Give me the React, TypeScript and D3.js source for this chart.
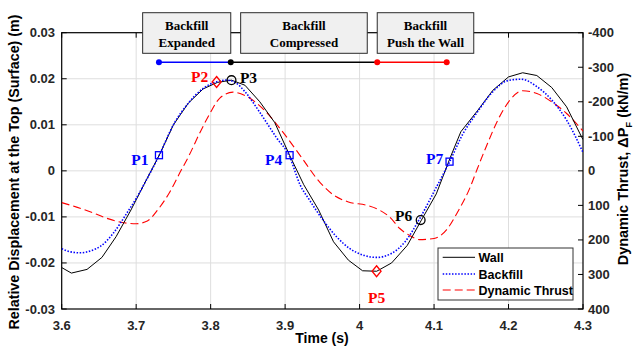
import React from "react";
import * as d3 from "d3";

// ---- data ----
const wallT = [3.600, 3.613, 3.634, 3.654, 3.673, 3.693, 3.712, 3.731, 3.750, 3.770, 3.790, 3.809, 3.828, 3.846, 3.866, 3.886, 3.906, 3.925, 3.945, 3.965, 3.985, 4.004, 4.023, 4.043, 4.064, 4.083, 4.103, 4.122, 4.136, 4.159, 4.179, 4.200, 4.219, 4.238, 4.258, 4.278, 4.298, 4.300];
const wallD = [-0.0210, -0.0222, -0.0214, -0.0188, -0.0143, -0.0085, -0.0025, 0.0034, 0.0100, 0.0147, 0.0178, 0.0192, 0.0197, 0.0186, 0.0150, 0.0105, 0.0034, -0.0030, -0.0085, -0.0154, -0.0194, -0.0217, -0.0218, -0.0200, -0.0162, -0.0107, -0.0050, 0.0030, 0.0085, 0.0132, 0.0175, 0.0204, 0.0213, 0.0207, 0.0181, 0.0139, 0.0074, 0.0068];

const backT = [3.600, 3.612, 3.625, 3.640, 3.652, 3.669, 3.687, 3.700, 3.712, 3.731, 3.750, 3.770, 3.790, 3.809, 3.821, 3.833, 3.846, 3.866, 3.888, 3.906, 3.920, 3.933, 3.951, 3.969, 3.987, 4.005, 4.023, 4.042, 4.061, 4.081, 4.101, 4.121, 4.139, 4.157, 4.179, 4.199, 4.217, 4.238, 4.258, 4.278, 4.300];
const backD = [-0.0169, -0.0176, -0.0178, -0.0173, -0.0164, -0.0136, -0.0093, -0.0060, -0.0025, 0.0034, 0.0100, 0.0147, 0.0179, 0.0194, 0.0197, 0.0192, 0.0172, 0.0127, 0.0073, 0.0031, -0.0030, -0.0064, -0.0107, -0.0143, -0.0169, -0.0183, -0.0188, -0.0180, -0.0154, -0.0103, -0.0042, 0.0020, 0.0081, 0.0125, 0.0172, 0.0196, 0.0199, 0.0183, 0.0154, 0.0110, 0.0040];

const thrustT = [3.600, 3.620, 3.640, 3.660, 3.680, 3.700, 3.715, 3.730, 3.745, 3.760, 3.770, 3.785, 3.800, 3.812, 3.830, 3.848, 3.872, 3.897, 3.920, 3.947, 3.965, 3.985, 4.010, 4.027, 4.040, 4.054, 4.068, 4.080, 4.100, 4.117, 4.132, 4.148, 4.157, 4.170, 4.188, 4.202, 4.219, 4.238, 4.258, 4.278, 4.300];
const thrustV = [92, 105, 120, 137, 149, 153, 145, 110, 62, 0, -40, -108, -170, -210, -228, -216, -176, -112, -45, 34, 70, 90, 100, 114, 133, 167, 188, 199, 196, 170, 118, 50, 0, -70, -157, -205, -232, -224, -200, -166, -115];

const xTicks = [3.6, 3.7, 3.8, 3.9, 4.0, 4.1, 4.2, 4.3];
const xTickLabels = ["3.6", "3.7", "3.8", "3.9", "4", "4.1", "4.2", "4.3"];
const yTicks = [0.03, 0.02, 0.01, 0, -0.01, -0.02, -0.03];
const yTickLabels = ["0.03", "0.02", "0.01", "0", "-0.01", "-0.02", "-0.03"];
const yRTicks = [-400, -300, -200, -100, 0, 100, 200, 300, 400];
const yRTickLabels = ["-400", "-300", "-200", "-100", "0", "100", "200", "300", "400"];

// key points
const pointNames = ["P1", "P2", "P3", "P4", "P5", "P6", "P7"];
const pointT = [3.7306, 3.808, 3.828, 3.906, 4.0228, 4.082, 4.1208];
const pointD = [0.0034, 0.0193, 0.0197, 0.0034, -0.0218, -0.0107, 0.0020];
const pointShape = ["square", "diamond", "circle", "square", "diamond", "circle", "square"];
const pointColor = ["#0000ff", "#ff0000", "#000000", "#0000ff", "#ff0000", "#000000", "#0000ff"];

// phases
const phaseStart = [3.7306, 3.827, 4.0237];
const phaseEnd = [3.827, 4.0237, 4.117];
const phaseColor = ["#0000ff", "#000000", "#ff0000"];
const boxStart = [3.7087, 3.8403, 4.0237];
const boxEnd = [3.827, 4.0103, 4.1533];
const boxLine1 = ["Backfill", "Backfill", "Backfill"];
const boxLine2 = ["Expanded", "Compressed", "Push the Wall"];

const legendLabels = ["Wall", "Backfill", "Dynamic Thrust"];

export default function App() {
  const L = 61.7, R = 583, T = 32.7, B = 309;
  const x = d3.scaleLinear().domain([3.6, 4.3]).range([L, R]);
  const y = d3.scaleLinear().domain([-0.03, 0.03]).range([B, T]);
  const yR = d3.scaleLinear().domain([-400, 400]).range([T, B]);

  const lineD = d3.line<[number, number]>().x(d => x(d[0])).y(d => y(d[1]));
  const lineR = d3.line<[number, number]>().x(d => x(d[0])).y(d => yR(d[1]));

  const wallPath = lineD(wallT.map((t, i) => [t, wallD[i]]))!;
  const backPath = lineD.curve(d3.curveMonotoneX)(backT.map((t, i) => [t, backD[i]]))!;
  const thrustPath = lineR.curve(d3.curveMonotoneX)(thrustT.map((t, i) => [t, thrustV[i]]))!;

  const sans = "'Liberation Sans', Arial, sans-serif";
  const serif = "'Liberation Serif', 'Times New Roman', serif";
  const tickColor = "#262626";

  const labelOffsets: [number, number, string][] = [
    [-19, 5, "middle"], [-17, -5, "middle"], [17, -2, "middle"], [-16, 5, "middle"],
    [0, 27, "middle"], [-17, -4, "middle"], [-15, -3, "middle"],
  ];

  const legendRows = [257.3, 274, 290];

  return (
    <svg width={639} height={347} style={{ position: "absolute", left: 0, top: 0, background: "#fff" }}>
      <defs>
        <clipPath id="plotclip"><rect x={L} y={T} width={R - L} height={B - T} /></clipPath>
      </defs>
      <rect x={0} y={0} width={639} height={347} fill="#fff" />
      {/* grid */}
      {xTicks.slice(1, -1).map((t, i) => (
        <line key={"gx" + i} x1={x(t)} x2={x(t)} y1={T} y2={B} stroke="#dedede" strokeWidth={1} />
      ))}
      {yTicks.slice(1, -1).map((v, i) => (
        <line key={"gy" + i} x1={L} x2={R} y1={y(v)} y2={y(v)} stroke="#dedede" strokeWidth={1} />
      ))}
      {/* axes box */}
      <rect x={L} y={T} width={R - L} height={B - T} fill="none" stroke="#000" strokeWidth={1.2} />
      {/* ticks */}
      {xTicks.map((t, i) => (
        <g key={"xt" + i}>
          <line x1={x(t)} x2={x(t)} y1={B} y2={B - 5} stroke="#000" />
          <line x1={x(t)} x2={x(t)} y1={T} y2={T + 5} stroke="#000" />
          <text x={x(t)} y={330} textAnchor="middle" fontFamily={sans} fontWeight="bold" fontSize={13} fill={tickColor}>{xTickLabels[i]}</text>
        </g>
      ))}
      {yTicks.map((v, i) => (
        <g key={"yt" + i}>
          <line x1={L} x2={L + 5} y1={y(v)} y2={y(v)} stroke="#000" />
          <text x={55} y={y(v) + 4.5} textAnchor="end" fontFamily={sans} fontWeight="bold" fontSize={13} fill={tickColor}>{yTickLabels[i]}</text>
        </g>
      ))}
      {yRTicks.map((v, i) => (
        <g key={"yr" + i}>
          <line x1={R} x2={R - 5} y1={yR(v)} y2={yR(v)} stroke="#000" />
          <text x={588} y={yR(v) + 4.5} textAnchor="start" fontFamily={sans} fontWeight="bold" fontSize={13} fill={tickColor}>{yRTickLabels[i]}</text>
        </g>
      ))}
      {/* axis titles */}
      <text transform="translate(19,172) rotate(-90)" textAnchor="middle" fontFamily={sans} fontWeight="bold" fontSize={14.3} fill="#000">Relative Displacement at the Top (Surface) (m)</text>
      <text transform="translate(628,169) rotate(-90)" textAnchor="middle" fontFamily={sans} fontWeight="bold" fontSize={14.5} fill="#000">
        Dynamic Thrust, ΔP<tspan fontSize={9.5} dy={4}>F</tspan><tspan dy={-4}> (kN/m)</tspan>
      </text>
      <text x={322} y={343} textAnchor="middle" fontFamily={sans} fontWeight="bold" fontSize={14} fill="#000">Time (s)</text>

      {/* series */}
      <g clipPath="url(#plotclip)">
        <path d={thrustPath} fill="none" stroke="#ff0000" strokeWidth={1.1} strokeDasharray="8,4" />
        <path d={wallPath} fill="none" stroke="#000" strokeWidth={1} />
        <path d={backPath} fill="none" stroke="#0000ff" strokeWidth={1.6} strokeDasharray="1.5,1.6" />
      </g>

      {/* key points */}
      {pointNames.map((n, i) => {
        const px = x(pointT[i]), py = y(pointD[i]);
        const c = pointColor[i];
        const s = pointShape[i];
        let mark;
        if (s === "square") mark = <rect x={px - 3.5} y={py - 3.5} width={7} height={7} fill="none" stroke={c} strokeWidth={1.3} />;
        else if (s === "diamond") mark = <path d={`M${px},${py - 5.5}L${px + 4.5},${py}L${px},${py + 5.5}L${px - 4.5},${py}Z`} fill="none" stroke={c} strokeWidth={1.3} />;
        else mark = <circle cx={px} cy={py} r={4.4} fill="none" stroke={c} strokeWidth={1.3} />;
        const o = labelOffsets[i];
        return (
          <g key={n}>
            {mark}
            <text x={px + o[0]} y={py + o[1] + 5} textAnchor={o[2] as any} fontFamily={serif} fontWeight="bold" fontSize={15.5} fill={c}>{n}</text>
          </g>
        );
      })}

      {/* phase annotation boxes */}
      {boxStart.map((b, i) => (
        <g key={"box" + i}>
          <rect x={x(b)} y={12.7} width={x(boxEnd[i]) - x(b)} height={40.6} fill="#f0f0f0" stroke="#2b2b2b" strokeWidth={1} />
          <text x={(x(b) + x(boxEnd[i])) / 2} y={30} textAnchor="middle" fontFamily={serif} fontWeight="bold" fontSize={13} fill="#000">{boxLine1[i]}</text>
          <text x={(x(b) + x(boxEnd[i])) / 2} y={47} textAnchor="middle" fontFamily={serif} fontWeight="bold" fontSize={13} fill="#000">{boxLine2[i]}</text>
        </g>
      ))}
      {/* phase lines */}
      {phaseStart.map((p, i) => (
        <line key={"pl" + i} x1={x(p)} x2={x(phaseEnd[i])} y1={62.3} y2={62.3} stroke={phaseColor[i]} strokeWidth={1.5} />
      ))}
      <circle cx={x(phaseStart[0])} cy={62.3} r={3} fill={phaseColor[0]} />
      <circle cx={x(phaseStart[1])} cy={62.3} r={3} fill={phaseColor[1]} />
      <circle cx={x(phaseStart[2])} cy={62.3} r={3} fill={phaseColor[2]} />
      <circle cx={x(phaseEnd[2])} cy={62.3} r={3} fill={phaseColor[2]} />

      {/* legend */}
      <rect x={438} y={248} width={135} height={52} fill="#fff" stroke="#333" strokeWidth={1} />
      <line x1={442.7} x2={475} y1={legendRows[0]} y2={legendRows[0]} stroke="#000" strokeWidth={1} />
      <line x1={442.7} x2={475} y1={legendRows[1]} y2={legendRows[1]} stroke="#0000ff" strokeWidth={1.6} strokeDasharray="1.5,1.6" />
      <line x1={442.7} x2={475} y1={legendRows[2]} y2={legendRows[2]} stroke="#ff0000" strokeWidth={1.1} strokeDasharray="8,4" />
      {legendLabels.map((l, i) => (
        <text key={l} x={478.5} y={legendRows[i] + 4.5} fontFamily={sans} fontWeight="bold" fontSize={12.5} fill="#000">{l}</text>
      ))}
    </svg>
  );
}
